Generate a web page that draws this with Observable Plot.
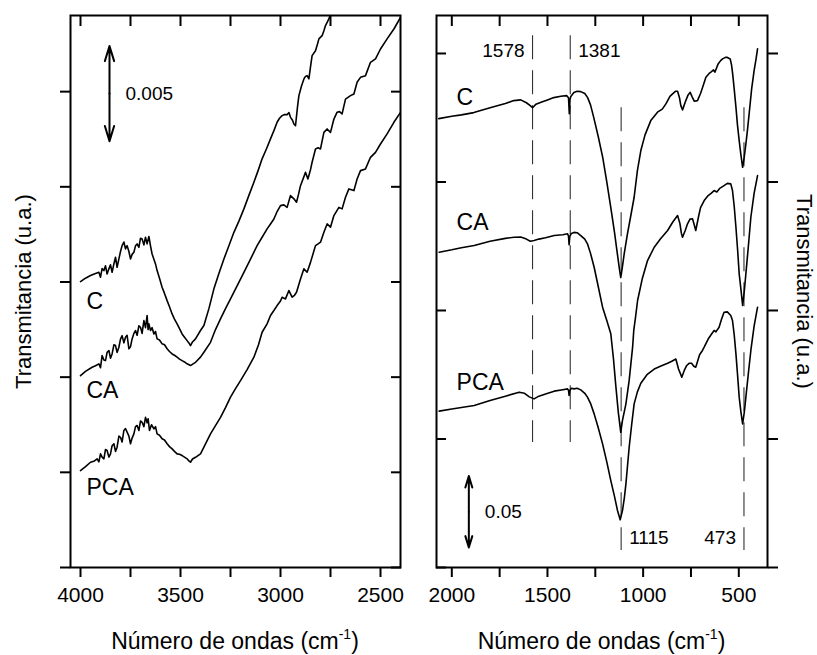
<!DOCTYPE html>
<html><head><meta charset="utf-8">
<script src="https://cdn.jsdelivr.net/npm/d3@7"></script>
<script src="https://cdn.jsdelivr.net/npm/@observablehq/plot@0.6"></script>
<style>
body{margin:0;background:#fff;}
#wrap{position:relative;width:817px;height:655px;font-family:"Liberation Sans",Arial,sans-serif;overflow:hidden;}
#wrap svg{position:absolute;top:0;}
.xt{position:absolute;top:630px;font-size:23px;line-height:23px;white-space:nowrap;transform:translateX(-50%);color:#000;}
.xt sup{font-size:14px;vertical-align:0;position:relative;top:-10px;}
</style></head><body><div id="wrap"></div>
<script>
// ---------- axis ticks ----------
const leftTicksMajor = [4000, 3500, 3000, 2500];
const leftTicksMinor = [3750, 3250, 2750];
const rightTicksMajor = [2000, 1500, 1000, 500];
const rightTicksMinor = [1750, 1250, 750];
const leftYTicks = [0, 5, 10, 15, 20, 25];      // 0.001 u.a.
const rightYTicks = [0, 9, 18, 27, 36];         // 0.01 u.a.

// ---------- left panel spectra (wavenumber, transmittance in 0.001 u.a.) ----------
const leftC = [[4000,15.02],[3975,15.2],[3950,15.34],[3925,15.45],[3908,15.51],[3900,15.25],[3892,15.7],[3883,15.6],[3875,15.85],[3867,15.42],[3858,15.69],[3850,15.9],[3842,15.51],[3833,15.95],[3825,16.3],[3817,15.77],[3808,16.21],[3800,16.6],[3792,16.91],[3783,17.1],[3775,16.74],[3767,16.91],[3758,16.6],[3750,16.21],[3742,16.45],[3733,16.56],[3725,16.9],[3717,17.0],[3708,16.82],[3700,17.3],[3692,17.26],[3683,16.95],[3675,17.35],[3667,17.0],[3658,17.39],[3650,16.9],[3642,16.47],[3633,16.2],[3625,15.95],[3617,15.6],[3605,15.2],[3592,14.72],[3580,14.4],[3567,14.02],[3555,13.7],[3542,13.32],[3530,13.05],[3517,12.8],[3505,12.55],[3492,12.27],[3480,12.1],[3467,11.92],[3458,11.8],[3450,11.66],[3440,11.85],[3425,12.01],[3400,12.45],[3383,12.71],[3358,13.6],[3333,14.64],[3308,15.45],[3283,16.21],[3258,16.9],[3233,17.61],[3208,18.2],[3183,18.84],[3158,19.55],[3133,20.24],[3112,20.85],[3092,21.47],[3070,22.0],[3050,22.52],[3033,22.95],[3017,23.39],[3005,23.6],[2992,23.74],[2980,23.8],[2967,23.79],[2958,23.9],[2950,23.65],[2940,23.5],[2933,23.3],[2925,23.21],[2915,24.2],[2908,24.79],[2895,25.3],[2883,25.67],[2875,25.8],[2867,25.84],[2858,25.67],[2850,26.3],[2842,26.89],[2825,27.15],[2815,27.5],[2808,27.77],[2792,27.94],[2783,28.2],[2775,28.47],[2758,28.82],[2740,29.4],[2720,30]];
const leftCA = [[4000,10.08],[3975,10.3],[3942,10.52],[3925,10.6],[3908,10.7],[3900,10.5],[3892,11.13],[3883,10.9],[3875,10.87],[3867,11.3],[3858,11.4],[3850,11.0],[3842,11.22],[3833,11.7],[3825,11.66],[3817,11.3],[3808,11.57],[3800,12.0],[3792,12.18],[3783,11.8],[3775,12.1],[3767,12.2],[3758,11.49],[3750,11.6],[3742,12.01],[3733,12.3],[3725,12.45],[3717,12.2],[3708,12.7],[3700,12.62],[3692,12.3],[3683,12.97],[3675,12.6],[3667,13.24],[3662,12.5],[3658,12.8],[3650,12.45],[3642,12.6],[3633,12.27],[3625,12.4],[3617,12.01],[3605,11.95],[3592,11.75],[3580,11.7],[3567,11.49],[3555,11.35],[3542,11.22],[3530,11.15],[3517,11.05],[3505,10.95],[3492,10.87],[3480,10.8],[3467,10.7],[3450,10.61],[3437,10.7],[3425,10.78],[3400,11.05],[3383,11.31],[3350,11.83],[3325,12.5],[3300,13.06],[3275,13.6],[3250,14.11],[3217,14.8],[3183,15.51],[3150,16.2],[3117,16.91],[3092,17.35],[3067,17.79],[3050,18.05],[3033,18.31],[3017,18.7],[3000,19.01],[2983,19.05],[2967,18.92],[2950,19.54],[2933,19.37],[2920,19.19],[2910,19.6],[2900,20.06],[2875,20.76],[2863,20.41],[2850,20.9],[2842,21.29],[2825,21.99],[2812,22.05],[2800,21.99],[2783,22.86],[2767,23.04],[2750,22.86],[2733,23.56],[2717,23.92],[2705,23.95],[2692,23.83],[2675,24.61],[2650,24.79],[2633,24.88],[2617,25.49],[2600,25.75],[2575,25.84],[2550,26.54],[2525,26.72],[2500,27.24],[2467,27.77],[2433,28.29],[2400,28.9]];
const leftPCA = [[4000,5.09],[3975,5.3],[3950,5.53],[3930,5.6],[3917,5.71],[3908,5.55],[3900,5.97],[3892,5.8],[3883,5.71],[3875,6.2],[3867,6.15],[3858,5.8],[3850,5.97],[3842,6.4],[3833,6.5],[3825,6.1],[3817,6.32],[3808,6.9],[3800,6.84],[3792,6.6],[3783,7.2],[3775,7.3],[3767,7.11],[3758,6.9],[3750,6.5],[3742,6.8],[3733,7.02],[3725,7.4],[3717,7.46],[3708,7.2],[3700,7.7],[3692,7.63],[3683,7.4],[3675,7.89],[3667,7.6],[3662,7.81],[3655,7.2],[3645,7.5],[3633,7.28],[3625,7.4],[3617,7.02],[3605,6.95],[3592,6.76],[3580,6.7],[3567,6.5],[3555,6.35],[3542,6.23],[3530,6.1],[3517,5.97],[3505,5.95],[3492,5.88],[3480,5.8],[3467,5.71],[3458,5.6],[3450,5.53],[3440,5.7],[3425,5.79],[3400,5.97],[3383,6.32],[3350,7.02],[3325,7.45],[3300,7.89],[3275,8.4],[3250,8.95],[3225,9.4],[3200,9.82],[3167,10.4],[3133,11.05],[3110,11.7],[3092,12.36],[3067,12.8],[3050,13.24],[3033,13.5],[3017,13.76],[3000,14.0],[2992,14.2],[2975,14.11],[2958,14.55],[2942,14.2],[2930,14.3],[2920,14.46],[2900,15.16],[2883,15.69],[2867,15.51],[2850,16.03],[2825,16.91],[2812,17.0],[2800,17.09],[2783,17.61],[2767,18.05],[2750,17.88],[2733,18.49],[2708,18.92],[2692,18.84],[2675,19.45],[2658,19.89],[2633,19.8],[2617,20.41],[2600,20.85],[2575,20.94],[2550,21.55],[2525,21.81],[2500,22.25],[2467,22.78],[2433,23.39],[2400,23.91]];

// ---------- right panel spectra (wavenumber, transmittance in 0.01 u.a.) ----------
const rightC = [[2068,31.44],[2000,31.6],[1950,31.7],[1885,31.86],[1800,32.2],[1720,32.5],[1676,32.7],[1640,32.75],[1610,32.55],[1590,32.35],[1578,32.2],[1560,32.45],[1530,32.6],[1500,32.75],[1467,32.91],[1430,33.0],[1400,33.05],[1390,32.9],[1386,31.79],[1382,32.8],[1378,32.98],[1362,33.26],[1345,33.35],[1326,33.33],[1305,33.2],[1290,32.91],[1275,32.4],[1258,31.51],[1235,30.2],[1211,28.71],[1190,27.0],[1169,25.21],[1150,23.5],[1137,22.2],[1125,21.0],[1117,20.31],[1110,20.9],[1099,21.97],[1082,23.37],[1065,24.6],[1047,25.93],[1030,27.8],[1012,29.2],[990,30.3],[960,31.3],[925,31.89],[900,32.1],[881,32.47],[860,33.0],[846,33.17],[830,33.36],[820,33.36],[810,32.9],[803,32.35],[794,32.05],[785,32.4],[777,32.7],[765,33.1],[754,33.28],[745,33.0],[733,32.66],[716,32.7],[700,33.2],[689,33.64],[672,34.34],[655,34.6],[646,34.69],[632,34.85],[625,34.69],[608,35.27],[595,35.5],[585,35.62],[570,35.73],[562,35.73],[545,35.62],[538,35.2],[532,34.57],[524,33.5],[515,32.24],[507,31.0],[498,29.9],[490,29.0],[480,28.03],[472,28.7],[463,29.67],[455,30.6],[446,31.77],[433,33.5],[420,34.8],[410,35.6],[402,36.33]];
const rightCA = [[2066,22.08],[2000,22.25],[1950,22.4],[1883,22.55],[1800,22.85],[1720,23.05],[1674,23.13],[1640,23.15],[1610,23.0],[1590,22.85],[1570,22.9],[1545,23.0],[1510,23.1],[1465,23.25],[1420,23.3],[1395,23.37],[1390,23.2],[1387,22.6],[1383,23.2],[1375,23.4],[1361,23.47],[1345,23.45],[1326,23.25],[1305,23.0],[1291,22.67],[1275,22.0],[1256,21.03],[1235,19.7],[1212,18.23],[1190,17.3],[1169,16.37],[1155,14.6],[1143,12.75],[1130,10.9],[1117,9.47],[1108,10.3],[1090,11.46],[1073,13.1],[1055,15.43],[1049,16.6],[1040,17.5],[1029,18.7],[1005,20.2],[977,21.5],[942,22.43],[910,23.0],[872,23.6],[845,24.2],[820,24.65],[808,24.1],[800,23.4],[794,23.13],[780,23.6],[768,24.07],[755,24.4],[742,24.42],[733,24.0],[725,23.6],[710,24.6],[700,25.2],[681,25.7],[660,26.05],[645,26.2],[629,26.4],[615,26.3],[600,26.55],[577,26.75],[560,26.9],[542,26.87],[533,26.4],[524,25.3],[515,23.83],[506,22.2],[498,20.57],[489,19.5],[480,18.35],[471,19.4],[463,20.57],[450,22.5],[437,24.53],[420,26.2],[402,27.45]];
const rightPCA = [[2066,10.95],[2000,11.1],[1950,11.2],[1883,11.34],[1800,11.7],[1720,12.0],[1648,12.28],[1620,12.2],[1595,11.95],[1570,11.81],[1545,12.0],[1510,12.15],[1465,12.35],[1420,12.45],[1395,12.51],[1390,12.4],[1387,12.05],[1383,12.4],[1375,12.55],[1361,12.51],[1345,12.55],[1326,12.44],[1305,12.2],[1291,11.93],[1275,11.5],[1256,10.76],[1235,9.8],[1212,8.66],[1190,7.4],[1169,6.09],[1150,5.0],[1134,3.99],[1120,3.34],[1108,3.99],[1098,4.9],[1090,5.86],[1073,8.42],[1060,10.0],[1047,11.46],[1030,12.3],[1012,12.9],[980,13.5],[942,13.9],[910,14.1],[872,14.3],[850,14.45],[829,14.6],[815,13.9],[798,13.33],[785,13.8],[772,14.15],[760,14.3],[747,14.31],[735,14.1],[725,14.03],[705,14.9],[690,15.2],[681,15.43],[660,16.0],[645,16.3],[629,16.6],[620,16.5],[603,16.83],[590,17.4],[577,17.88],[560,17.9],[542,17.65],[533,17.3],[524,16.3],[515,14.96],[506,13.4],[498,11.93],[489,10.9],[480,10.06],[471,10.9],[463,11.93],[450,13.6],[437,15.2],[420,16.9],[402,18.23]];

// ---------- labels & annotations ----------
const seriesNames = ["C", "CA", "PCA"];
const leftLabelX = 3970;
const leftLabelY = [13.97, 9.3, 4.18];
const rightLabelX = 1975;
const rightLabelY = [32.88, 24.18, 12.98];
const upperBands = [1578, 1381];           // dashed lines reaching the top
const upperBandRange = [37.25, 8.75];
const lowerBands = [1115, 473];            // dashed lines reaching the bottom
const lowerBandRange = [32.2, 1.19];
const upperLabelY = 36.2;
const lowerLabelY = 2.07;
const leftScaleBar = {x: 3855, low: 22.4, high: 27.4, label: "0.005"};
const rightScaleBar = {x: 1911, low: 1.4, high: 6.4, label: "0.05"};
const yTitle = "Transmitancia (u.a.)";

const FONT = '"Liberation Sans", Arial, sans-serif';
const lineStyle = {x: d => d[0], y: d => d[1], stroke: "black", strokeWidth: 1.6, clip: true};
const axisStyle = {strokeWidth: 2, label: null};
const blank = () => "";

function scaleBarMarks(b) {
  const mid = (b.low + b.high) / 2;
  return [
    Plot.arrow([b], {x1: d => d.x, x2: d => d.x, y1: mid, y2: d => d.high, strokeWidth: 2, headLength: 12, headAngle: 34}),
    Plot.arrow([b], {x1: d => d.x, x2: d => d.x, y1: mid, y2: d => d.low, strokeWidth: 2, headLength: 12, headAngle: 34}),
    Plot.text([b], {x: d => d.x, y: mid, text: d => d.label, textAnchor: "start", dx: 16, fontSize: 19})
  ];
}

const common = {
  height: 615, marginTop: 15, marginBottom: 48,
  style: {fontFamily: FONT, fontSize: "21px", background: "transparent", overflow: "visible"}
};

const left = Plot.plot({
  ...common, width: 410, marginLeft: 70, marginRight: 10,
  x: {domain: [4050, 2400]},
  y: {domain: [0, 29]},
  marks: [
    Plot.axisX({anchor: "bottom", ticks: leftTicksMajor, tickSize: 10, tickPadding: 10, tickFormat: "d", fontSize: 21, ...axisStyle}),
    Plot.axisX({anchor: "bottom", ticks: leftTicksMinor, tickSize: 10, tickFormat: blank, ...axisStyle}),
    Plot.axisX({anchor: "top", ticks: [...leftTicksMajor, ...leftTicksMinor], tickSize: 10, dy: 10, tickFormat: blank, ...axisStyle}),
    Plot.axisY({anchor: "left", ticks: leftYTicks, tickSize: 10, tickFormat: blank, ...axisStyle}),
    Plot.axisY({anchor: "right", ticks: leftYTicks, tickSize: 10, dx: -10, tickFormat: blank, ...axisStyle}),
    Plot.line(leftC, lineStyle),
    Plot.line(leftCA, lineStyle),
    Plot.line(leftPCA, lineStyle),
    Plot.text(seriesNames, {x: leftLabelX, y: (d, i) => leftLabelY[i], text: d => d, textAnchor: "start", fontSize: 23}),
    ...scaleBarMarks(leftScaleBar),
    Plot.text([yTitle], {frameAnchor: "left", text: d => d, rotate: -90, dx: -47, textAnchor: "middle", fontSize: 22}),
    Plot.frame({strokeWidth: 2})
  ]
});

const right = Plot.plot({
  ...common, width: 407, marginLeft: 26, marginRight: 50,
  x: {domain: [2080, 350]},
  y: {domain: [0, 38.66]},
  marks: [
    Plot.axisX({anchor: "bottom", ticks: rightTicksMajor, tickSize: 10, tickPadding: 10, tickFormat: "d", fontSize: 21, ...axisStyle}),
    Plot.axisX({anchor: "bottom", ticks: rightTicksMinor, tickSize: 10, tickFormat: blank, ...axisStyle}),
    Plot.axisX({anchor: "top", ticks: [...rightTicksMajor, ...rightTicksMinor], tickSize: 10, dy: 10, tickFormat: blank, ...axisStyle}),
    Plot.axisY({anchor: "left", ticks: rightYTicks, tickSize: 10, dx: 10, tickFormat: blank, ...axisStyle}),
    Plot.axisY({anchor: "right", ticks: rightYTicks, tickSize: 10, tickFormat: blank, ...axisStyle}),
    Plot.ruleX(upperBands, {x: d => d, y1: upperBandRange[0], y2: upperBandRange[1], stroke: "#333", strokeWidth: 1.1, strokeDasharray: "24,11"}),
    Plot.ruleX(lowerBands, {x: d => d, y1: lowerBandRange[0], y2: lowerBandRange[1], stroke: "#333", strokeWidth: 1.1, strokeDasharray: "24,11"}),
    Plot.line(rightC, lineStyle),
    Plot.line(rightCA, lineStyle),
    Plot.line(rightPCA, lineStyle),
    Plot.text(seriesNames, {x: rightLabelX, y: (d, i) => rightLabelY[i], text: d => d, textAnchor: "start", fontSize: 23}),
    Plot.text([upperBands[0]], {x: d => d, y: upperLabelY, text: d => String(d), textAnchor: "end", dx: -8, fontSize: 19}),
    Plot.text([upperBands[1]], {x: d => d, y: upperLabelY, text: d => String(d), textAnchor: "start", dx: 8, fontSize: 19}),
    Plot.text([lowerBands[0]], {x: d => d, y: lowerLabelY, text: d => String(d), textAnchor: "start", dx: 8, fontSize: 19}),
    Plot.text([lowerBands[1]], {x: d => d, y: lowerLabelY, text: d => String(d), textAnchor: "end", dx: -8, fontSize: 19}),
    ...scaleBarMarks(rightScaleBar),
    Plot.text([yTitle], {frameAnchor: "right", text: d => d, rotate: 90, dx: 37, textAnchor: "middle", fontSize: 22}),
    Plot.frame({strokeWidth: 2})
  ]
});

const wrap = document.getElementById("wrap");
left.style.left = "0px";
right.style.left = "410px";
wrap.appendChild(left);
wrap.appendChild(right);

function addTitle(center) {
  const d = document.createElement("div");
  d.className = "xt";
  d.style.left = center + "px";
  d.innerHTML = "Número de ondas (cm<sup>-1</sup>)";
  wrap.appendChild(d);
}
addTitle(235);
addTitle(601.5);
</script></body></html>
